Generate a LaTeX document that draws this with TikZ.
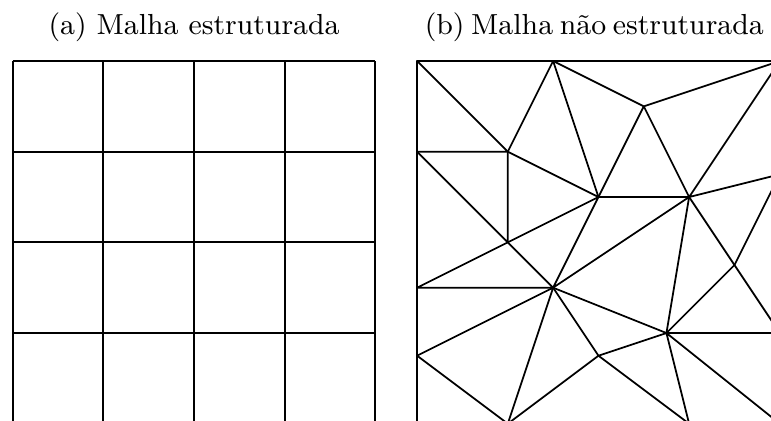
\documentclass[tikz,border=0pt]{standalone}
\usepackage{tikz}
\usetikzlibrary{positioning,calc}
\tikzset{
	caption/.style={anchor=base,inner sep=0pt,font=\fontsize{9.1pt}{11pt}\selectfont},
	meshline/.style={line width=0.55pt,line join=round}
}
\begin{document}
\begin{tikzpicture}[meshline]
		
		\clip (-0.14,0.03) rectangle (8.363,4.673);
		
		% Structured mesh
		\node[caption] (capa) at (2,4.287) {(a) Malha estruturada};
		\draw (0,0) grid (4,4);
		
		% Unstructured mesh
		\node[caption] (capb) at (6.365,4.287) {\hbox to 3.64cm{(b) Malha não estruturada}};
		\begin{scope}[xshift=4.46cm]
		\coordinate (bl) at (0,0);
		\coordinate (br) at (4,0);
		\coordinate (tl) at (0,4);
		\coordinate (tr) at (4,4);
		\coordinate (a) at (1.5,4);
		\coordinate (b) at (2.5,3.5);
		\coordinate (c) at (1,3);
		\coordinate (d) at (0,3);
		\coordinate (e) at (2,2.5);
		\coordinate (f) at (3,2.5);
		\coordinate (h) at (1,2);
		\coordinate (i) at (1.5,1.5);
		\coordinate (j) at (0,1.5);
		\coordinate (k) at (3.5,1.75);
		\coordinate (l) at (2.75,1);
		\coordinate (m) at (2,0.75);
		\coordinate (n) at (0,0.75);
		\coordinate (p1) at (1,0);
		\coordinate (p2) at (3,0);
		\coordinate (r1) at (4,2.75);
		\coordinate (r2) at (4,1);
		
		\draw (bl) rectangle (tr);
		\draw (tl) -- (c) -- (d);
		\draw (c) -- (a) -- (e) -- (c);
		\draw (a) -- (b) -- (tr) -- (f) -- (b) -- (e) -- (f) -- (r1);
		\draw (c) -- (h) -- (d);
		\draw (h) -- (e) -- (i) -- (f) -- (l);
		\draw (f) -- (k) -- (r2);
		\draw (r1) -- (k) -- (l) -- (r2);
		\draw (j) -- (h) -- (i) -- (j);
		\draw (n) -- (i) -- (p1) -- (n);
		\draw (i) -- (m) -- (p1);
		\draw (i) -- (l) -- (m) -- (p2) -- (l) -- (br);
		\end{scope}
		
	\end{tikzpicture}
\end{document}
